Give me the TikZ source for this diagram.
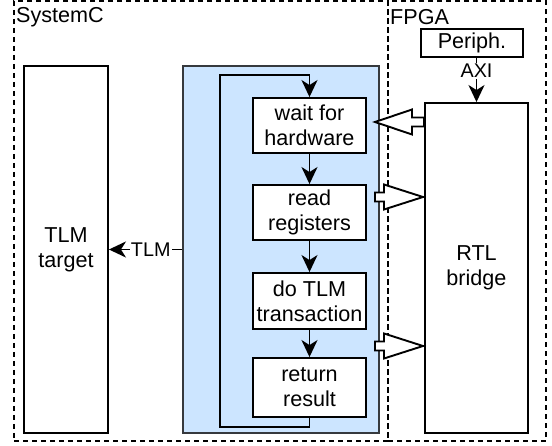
\documentclass[tikz,border=0pt]{standalone}
\usepackage{fontspec}
\setmainfont{Liberation Sans}
\usetikzlibrary{arrows.meta}
\definecolor{bluefill}{HTML}{CCE5FF}
\definecolor{bluestroke}{HTML}{36393D}
\tikzset{
  box/.style={draw=black, line width=1.9pt, fill=white, rectangle, inner sep=0pt, align=center,
    font=\fontsize{21.6}{25}\selectfont},
  region/.style={draw=black, line width=1.9pt, dash pattern=on 5pt off 4pt, rectangle, inner sep=0pt},
  title/.style={font=\fontsize{21.6}{25}\selectfont, inner sep=0pt, anchor=west},
  arr/.style={line width=1.9pt, -{Stealth[length=17pt,width=16pt,inset=5pt]}},
  lbl/.style={fill=white, inner sep=1pt, font=\fontsize{19.8}{22}\selectfont},
  flex/.style={draw=black, line width=1.9pt, fill=white, line join=miter},
}
\newcommand\flexarrow[4]{% tail x, head base x, tip x, y
  \draw[flex] (#1,{#4-4.5}) -- (#2,{#4-4.5}) -- (#2,{#4-12.5}) -- (#3,#4)
    -- (#2,{#4+12.5}) -- (#2,{#4+4.5}) -- (#1,{#4+4.5}) -- cycle;}
\begin{document}
\begin{tikzpicture}[x=1pt,y=-1pt]
\useasboundingbox (0,0) rectangle (552,446);
% regions
\node[region, minimum width=374pt, minimum height=440pt] (sysc) at (201,221) {};
\node[region, minimum width=158pt, minimum height=440pt] (fpga) at (467,221) {};
\node[title] (sysct) at (16,17) {SystemC};
\node[title] (fpgat) at (390,17) {FPGA};
% blue container
\node[draw=bluestroke, fill=bluefill, line width=1.5pt, rectangle, minimum width=196pt, minimum height=367pt] (blue) at (281,249.5) {};
% boxes
\node[box, minimum width=84pt, minimum height=367pt] (tlm) at (66,249.5) {TLM\\target};
\node[box, minimum width=113pt, minimum height=55pt] (wait) at (309.5,125.5) {wait for\\hardware};
\node[box, minimum width=113pt, minimum height=55pt] (read) at (309.5,212.5) {read\\registers};
\node[box, minimum width=113pt, minimum height=56pt] (do) at (309.5,301) {do TLM\\transaction};
\node[box, minimum width=113pt, minimum height=59pt] (ret) at (309.5,387.5) {return\\result};
\node[box, minimum width=103pt, minimum height=330pt] (rtl) at (476.5,268) {RTL\\bridge};
\node[box, minimum width=102pt, minimum height=28pt] (periph) at (472,43) {Periph.};
% flow arrows
\draw[arr] (wait) -- (read);
\draw[arr] (read) -- (do);
\draw[arr] (do) -- (ret);
\coordinate (loopl) at (220,75);
\draw[arr] (ret.south) -- ++(0,9) -| (loopl) -| (wait.north);
% TLM arrow
\draw[arr] (blue.west) -- node[lbl, pos=0.43] (tlml) {TLM} (tlm.east);
% AXI arrow
\draw[arr] (periph.south -| rtl.north) -- node[lbl, pos=0.3] (axil) {AXI} (rtl.north);
% block arrows
\flexarrow{424}{412}{375}{122}
\flexarrow{375}{384}{423}{197}
\flexarrow{375}{384}{423}{346}
\end{tikzpicture}
\end{document}
